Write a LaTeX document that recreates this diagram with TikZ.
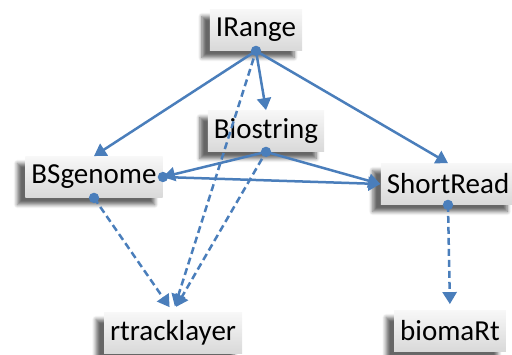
\documentclass[tikz,border=0pt]{standalone}
\usepackage{fontspec}
\setmainfont{Carlito}
\usetikzlibrary{arrows.meta,shadows.blur}

\definecolor{pkgblue}{HTML}{4A7EBB}

\tikzset{
	pkg/.style={top color=gray!6, bottom color=gray!30, inner xsep=3pt, minimum height=20.5pt,
		text=black, font=\fontsize{14.5}{17}\selectfont,
		blur shadow={shadow xshift=-4pt, shadow yshift=-3.5pt, shadow blur steps=6, shadow opacity=60}},
	dep/.style={pkgblue, line width=1.25pt, -{Triangle[width=7pt,length=6pt]}},
	sugg/.style={dep, dash pattern=on 3.5pt off 2pt}
}

\begin{document}
\begin{tikzpicture}[x=0.5pt, y=-0.5pt]
	\useasboundingbox (0,0) rectangle (512,354);
	\node[pkg] (irange) at (256,30) {IRange};
	\node[pkg] (biostring) at (266,131) {Biostring};
	\node[pkg] (bsgenome) at (94,177) {BSgenome};
	\node[pkg] (shortread) at (448,184) {ShortRead};
	\node[pkg] (rtracklayer) at (173,333) {rtracklayer};
	\node[pkg] (biomart) at (450,331) {biomaRt};
	% hard dependencies
	\draw[dep] (irange.south) -- (bsgenome.north);
	\draw[dep] (irange.south) -- (biostring.north);
	\draw[dep] (irange.south) -- (shortread.north);
	\draw[dep] (biostring.south) -- (bsgenome.east);
	\draw[dep] (biostring.south) -- (shortread.west);
	\draw[dep] (bsgenome.east) -- (shortread.west);
	% dashed ones
	\draw[sugg, shorten <=4pt, shorten >=3pt] (irange.south) -- (rtracklayer.north);
	\draw[sugg, shorten <=4pt, shorten >=3pt] (biostring.south) -- (rtracklayer.north);
	\draw[sugg, shorten >=3pt] (bsgenome.south) -- (rtracklayer.north);
	\draw[sugg, shorten >=3pt] (shortread.south) -- (biomart.north);
	\foreach \p in {irange.south, biostring.south, bsgenome.east, bsgenome.south, shortread.south}
		\fill[pkgblue] (\p) circle (2.6pt);
\end{tikzpicture}
\end{document}
